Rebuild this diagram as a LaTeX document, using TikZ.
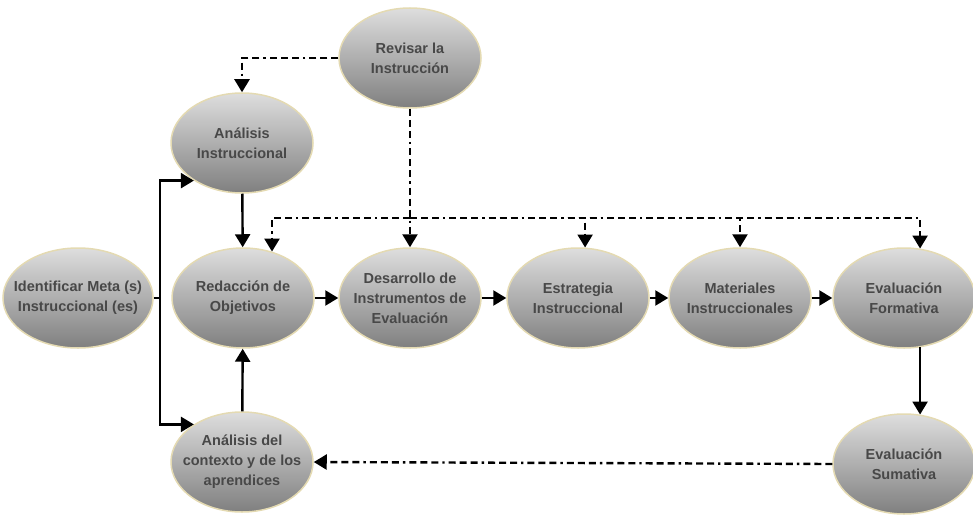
\documentclass[tikz,border=0pt]{standalone}
\usepackage{fontspec}
\setmainfont{Liberation Sans}
\usetikzlibrary{shapes.geometric,arrows.meta}
\definecolor{rim}{RGB}{228,218,178}
\definecolor{ink}{RGB}{72,72,72}

\begin{document}
\begin{tikzpicture}[x=1pt,y=-1pt,
      phase/.style={ellipse, draw=rim, line width=1.5pt, top color=black!13, bottom color=black!50,
        minimum width=142pt, minimum height=100pt, inner sep=-16pt, align=center,
        font=\bfseries\fontsize{14.5}{20}\selectfont, text=ink},
      flow/.style={line width=2.4pt, -{Triangle[width=15pt,length=13pt]}},
      review/.style={flow, dash pattern=on 7pt off 4pt on 7pt off 4pt on 7pt off 4pt on 2.4pt off 4pt}]
      \useasboundingbox (0,0) rectangle (973,516);
      \node[phase,minimum width=150pt](ident) at (78, 298){Identificar Meta (s)\\Instruccional (es)};
      \node[phase](redac) at (243, 298){Redacción de\\Objetivos};
      \node[phase](desar) at (410, 298){Desarrollo de\\Instrumentos de\\Evaluación};
      \node[phase](estra) at (578, 298){Estrategia\\Instruccional};
      \node[phase](mater) at (740, 298){Materiales\\Instruccionales};
      \node[phase](forma) at (904, 298){Evaluación\\Formativa};
      \node[phase](sumat) at (904, 464){Evaluación\\Sumativa};
      \node[phase](anains) at (242, 143){Análisis\\Instruccional};
      \node[phase](anacon) at (242, 462){Análisis del\\contexto y de los\\aprendices};
      \node[phase](revis) at (410, 58){Revisar la\\Instrucción};
      \coordinate(split) at (160, 298);
      \coordinate(bar) at (410, 218);
      % main flow
      \draw[line width=2.4pt] (ident.east) -- (split);
      \draw[flow] (split) |- (anains.218);
      \draw[flow] (split) |- (anacon.142);
      \draw[flow] (anains) -- (redac);
      \draw[flow] (anacon) -- (redac);
      \draw[flow] (redac) -- (desar);
      \draw[flow] (desar) -- (estra);
      \draw[flow] (estra) -- (mater);
      \draw[flow] (mater) -- (forma);
      \draw[flow] (forma.-72) -- (sumat.72);
      % feedback
      \draw[review] (sumat.west) -- (anacon.east);
      \draw[review] (revis.west) -| (anains.north);
      \draw[review] (revis.south) -- (desar.north);
      \draw[review] (bar) -| (redac.58);
      \draw[review] (bar) -| (estra.82);
      \draw[review] (bar) -| (mater.north);
      \draw[review] (bar) -| (forma.72);
    \end{tikzpicture}
\end{document}
